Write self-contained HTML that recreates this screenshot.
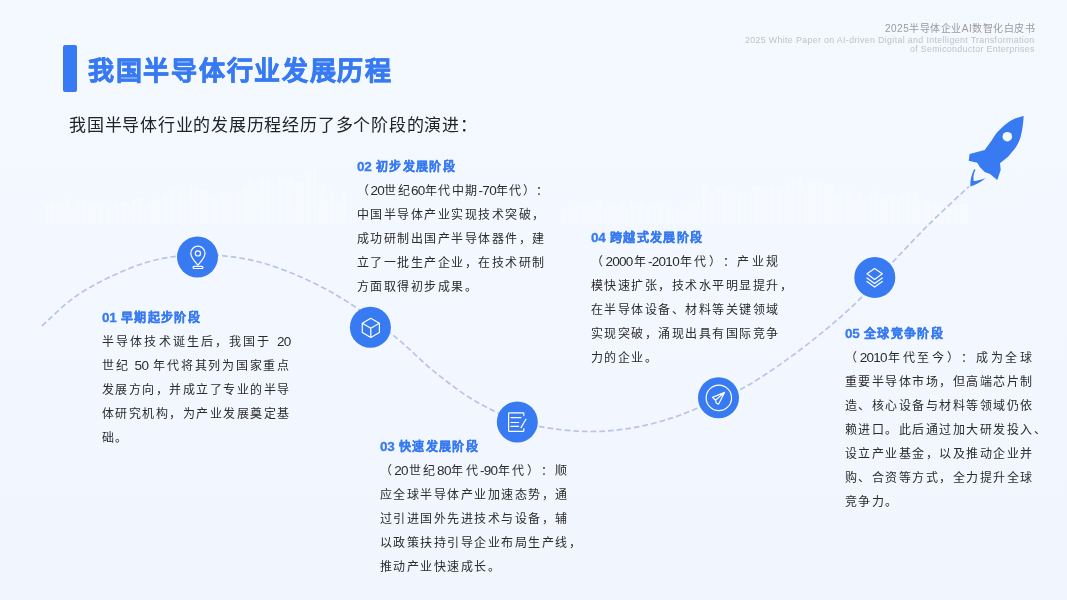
<!DOCTYPE html>
<html lang="zh-CN">
<head>
<meta charset="utf-8">
<style>
*{margin:0;padding:0;box-sizing:border-box}
html,body{width:1067px;height:600px;overflow:hidden}
body{background:linear-gradient(180deg,#f4f8ff 0%,#f3f7ff 50%,#f1f5fe 100%);font-family:"Liberation Sans",sans-serif;color:#333;position:relative}
.hcn,.hen1,.hen2{position:absolute;right:32px;white-space:nowrap;line-height:12px}
.hcn{top:23px;font-size:10px;letter-spacing:0.5px;color:#9a9a9a}
.hen1{top:33.5px;font-size:8.8px;letter-spacing:0.36px;color:#c2c2c2}
.hen2{top:42.5px;font-size:8.8px;letter-spacing:0.33px;color:#c2c2c2}
.bar{position:absolute;left:63px;top:45px;width:14px;height:47px;background:#377af2;border-radius:2px}
.title{position:absolute;left:88px;top:50.5px;font-size:26px;letter-spacing:1.72px;font-weight:bold;-webkit-text-stroke:0.7px #377af2;color:#377af2;white-space:nowrap;line-height:40px}
.sub{position:absolute;left:69px;top:111.5px;font-size:17px;letter-spacing:0.77px;color:#222;white-space:nowrap;line-height:28px}
.blk{position:absolute;width:188.6px;font-size:12px;letter-spacing:1.47px;line-height:24px;color:#2b2b2b;white-space:nowrap}
.blk h3{font-size:12px;letter-spacing:1.33px;word-spacing:-0.4px;font-weight:bold;-webkit-text-stroke:0.3px #377af2;color:#377af2;line-height:24px}
.blk .l{display:block;text-align:justify;text-align-last:justify}
.blk .e{display:block}
.blk i{font-style:normal;font-size:13.5px;letter-spacing:-0.7px;line-height:0}
.blk h3 i{letter-spacing:-0.2px}
.blk{text-spacing-trim:space-all}
svg.main{position:absolute;left:0;top:0}
.blk,.title,.sub,.hcn,.hen1,.hen2{will-change:transform}
</style>
</head>
<body>
<svg class="main" width="1067" height="600" viewBox="0 0 1067 600">
  <g fill="#ffffff" opacity="0.3"><rect x="45" y="204" width="4" height="20"/><rect x="50" y="202" width="4" height="22"/><rect x="55" y="203" width="7" height="21"/><rect x="63" y="199" width="7" height="25"/><rect x="71" y="207" width="3" height="17"/><rect x="75" y="201" width="6" height="23"/><rect x="82" y="200" width="4" height="24"/><rect x="87" y="203" width="9" height="21"/><rect x="97" y="203" width="7" height="21"/><rect x="105" y="207" width="9" height="17"/><rect x="115" y="204" width="4" height="20"/><rect x="120" y="202" width="7" height="22"/><rect x="128" y="205" width="3" height="19"/><rect x="132" y="200" width="3" height="24"/><rect x="136" y="198" width="7" height="26"/><rect x="144" y="206" width="3" height="18"/><rect x="148" y="203" width="5" height="21"/><rect x="152" y="199" width="9" height="25"/><rect x="162" y="195" width="6" height="29"/><rect x="169" y="190" width="6" height="34"/><rect x="176" y="191" width="7" height="33"/><rect x="184" y="198" width="4" height="26"/><rect x="189" y="184" width="3" height="40"/><rect x="193" y="187" width="6" height="37"/><rect x="200" y="190" width="9" height="34"/><rect x="210" y="198" width="9" height="26"/><rect x="220" y="192" width="6" height="32"/><rect x="227" y="193" width="6" height="31"/><rect x="234" y="193" width="7" height="31"/><rect x="242" y="187" width="7" height="37"/><rect x="248" y="179" width="5" height="45"/><rect x="254" y="182" width="3" height="42"/><rect x="258" y="179" width="7" height="45"/><rect x="266" y="179" width="4" height="45"/><rect x="271" y="184" width="5" height="40"/><rect x="277" y="177" width="7" height="47"/><rect x="285" y="178" width="9" height="46"/><rect x="295" y="182" width="9" height="42"/><rect x="305" y="171" width="7" height="53"/><rect x="313" y="167" width="3" height="57"/><rect x="317" y="185" width="9" height="39"/><rect x="322" y="195" width="3" height="29"/><rect x="326" y="196" width="3" height="28"/><rect x="330" y="190" width="4" height="34"/><rect x="335" y="202" width="6" height="22"/><rect x="342" y="191" width="3" height="33"/><rect x="560" y="208" width="7" height="16"/><rect x="568" y="207" width="6" height="17"/><rect x="575" y="206" width="5" height="18"/><rect x="581" y="205" width="5" height="19"/><rect x="587" y="203" width="3" height="21"/><rect x="591" y="201" width="3" height="23"/><rect x="595" y="200" width="7" height="24"/><rect x="603" y="210" width="4" height="14"/><rect x="608" y="206" width="5" height="18"/><rect x="614" y="207" width="4" height="17"/><rect x="619" y="203" width="5" height="21"/><rect x="625" y="209" width="4" height="15"/><rect x="630" y="204" width="6" height="20"/><rect x="637" y="204" width="7" height="20"/><rect x="645" y="207" width="7" height="17"/><rect x="653" y="206" width="3" height="18"/><rect x="657" y="203" width="7" height="21"/><rect x="665" y="207" width="9" height="17"/><rect x="675" y="209" width="4" height="15"/><rect x="680" y="210" width="6" height="14"/><rect x="687" y="203" width="7" height="21"/><rect x="695" y="200" width="5" height="24"/><rect x="701" y="210" width="6" height="14"/><rect x="702" y="186" width="5" height="38"/><rect x="708" y="192" width="7" height="32"/><rect x="716" y="187" width="4" height="37"/><rect x="721" y="189" width="9" height="35"/><rect x="731" y="193" width="5" height="31"/><rect x="737" y="192" width="5" height="32"/><rect x="743" y="193" width="5" height="31"/><rect x="749" y="192" width="3" height="32"/><rect x="753" y="186" width="9" height="38"/><rect x="763" y="189" width="5" height="35"/><rect x="769" y="189" width="6" height="35"/><rect x="776" y="189" width="7" height="35"/><rect x="784" y="188" width="5" height="36"/><rect x="785" y="184" width="5" height="40"/><rect x="791" y="179" width="5" height="45"/><rect x="797" y="177" width="6" height="47"/><rect x="804" y="186" width="3" height="38"/><rect x="808" y="183" width="9" height="41"/><rect x="818" y="181" width="5" height="43"/><rect x="824" y="184" width="9" height="40"/><rect x="830" y="193" width="4" height="31"/><rect x="835" y="194" width="9" height="30"/><rect x="845" y="191" width="9" height="33"/><rect x="855" y="193" width="7" height="31"/><rect x="863" y="197" width="5" height="27"/><rect x="869" y="194" width="4" height="30"/><rect x="874" y="191" width="4" height="33"/><rect x="879" y="197" width="9" height="27"/><rect x="889" y="195" width="7" height="29"/><rect x="897" y="198" width="4" height="26"/><rect x="902" y="195" width="3" height="29"/><rect x="906" y="193" width="4" height="31"/><rect x="911" y="192" width="7" height="32"/><rect x="916" y="203" width="5" height="21"/><rect x="922" y="201" width="9" height="23"/><rect x="932" y="203" width="7" height="21"/><rect x="940" y="204" width="4" height="20"/><rect x="945" y="208" width="7" height="16"/><rect x="953" y="205" width="5" height="19"/><rect x="959" y="204" width="9" height="20"/></g>
  <path d="M42 326 C47.5 321.1 63.5 305 75 296.8 C86.5 288.5 99 282.2 111 276.5 C123 270.8 136 265.6 147 262.2 C158 258.9 168.3 257.5 177 256.2 C185.7 255 191.7 254.9 199 254.8 C206.3 254.7 210.8 254.3 221 255.5 C231.2 256.7 246 258.4 260 262.2 C274 266.1 290 271.9 305 278.8 C320 285.6 334.9 293.8 350 303.5 C365.1 313.2 381.4 325.9 395.5 337.2 C409.6 348.6 421.2 361.1 434.5 371.8 C447.8 382.4 460.8 392.7 475 401 C489.2 409.3 505.5 416.7 520 421.5 C534.5 426.3 549.2 428.2 562.1 429.8 C575 431.4 585.4 431.7 597.1 431.4 C608.8 431.1 620.5 429.9 632.2 427.9 C643.9 425.9 656.6 422.7 667.2 419.5 C677.8 416.3 683.7 413.8 695.9 408.8 C708.1 403.8 725.5 397.6 740.2 389.7 C754.9 381.8 769.7 371.8 784 361.7 C798.3 351.6 813.2 340 826 329.4 C838.8 318.8 850 308.9 861 297.9 C872 286.9 880.2 275.7 891.7 263.3 C903.2 250.9 917.1 236.1 930 223.3 C942.9 210.5 962.5 192.6 969 186.5" fill="none" stroke="#b8c5e8" stroke-width="1.7" stroke-dasharray="5.7 3"/>
  <g fill="#377af2">
    <circle cx="197.5" cy="257" r="20.5"/>
    <circle cx="370.4" cy="327.3" r="20.5"/>
    <circle cx="517.3" cy="422" r="20.5"/>
    <circle cx="718.5" cy="397.8" r="20.5"/>
    <circle cx="874.8" cy="277.4" r="20.5"/>
  </g>
  <g fill="none" stroke="#fff" stroke-width="1.2" stroke-linecap="round" stroke-linejoin="round">
    <!-- pin -->
    <path d="M197.9 265.2 C 194 260.5, 190.8 257.5, 190.8 253.3 A 7.1 7.1 0 0 1 205 253.3 C 205 257.5, 201.8 260.5, 197.9 265.2 Z"/>
    <circle cx="197.9" cy="253.4" r="2.6"/>
    <rect x="193" y="266.3" width="10" height="2.2" rx="1.1"/>
    <!-- cube -->
    <path d="M370.8 318.3 L379.4 323.2 L379.4 332.4 L370.8 337.4 L362.3 332.4 L362.3 323.2 Z"/>
    <path d="M362.8 323.6 L370.8 328.2 L378.9 323.6 M370.8 328.2 V337"/>
    <!-- doc -->
    <path d="M523.8 415.6 V413.4 Q523.8 412.9 523.3 412.9 H509.1 Q508.6 412.9 508.6 413.4 V430.8 Q508.6 431.3 509.1 431.3 H523.3 Q523.8 431.3 523.8 430.8 V428.6"/>
    <path d="M510.9 417.6 H521 M510.9 422.5 H518.6 M510.9 426.4 H518.6 M525.9 419.2 L521 427.6"/>
    <!-- plane -->
    <circle cx="718.85" cy="397.9" r="12.7"/>
    <path d="M724.6 392.4 L712.5 397.4 L715.5 400.2 L716.3 403 L718.5 404.2 Z M724.6 392.4 L715.5 400.2"/>
    <!-- layers -->
    <path d="M874.6 268.5 L882.3 273.8 L874.6 279.4 L867 273.8 Z"/>
    <path d="M866.9 278 L874.6 283.6 L882.3 278 M866.9 281.5 L874.6 287.1 L882.3 281.5"/>
  </g>
  <!-- rocket -->
  <g fill="#377af2">
    <path d="M1023.7 116 C1023.4 122, 1022.4 130, 1020.7 136.7 C1018.8 143, 1016 147.3, 1012 152 L1008 156.7 L1000 163.3 L1000.7 170 L997.3 180 L993.3 176.7 L990 174 L984.7 172 L980 167.3 L977.3 162.7 L968.7 160.7 L969.6 154 L984.7 150 L992 140 C995 135, 997 132, 1000 129.5 C1004 125.5, 1008 122, 1012 120 C1016 118, 1020 116.8, 1023.7 116 Z"/>
    <path d="M974.2 169.3 C971.6 174 970.1 180 970.3 186.6 C976 184.6 981.5 182 985.6 178.1 C981 180 976.5 181.2 973.6 181 C973 177.5 973.7 173 975.6 169.8 Z"/>
  </g>
  <circle cx="1007.3" cy="136.7" r="4.8" fill="#f4f8ff"/>
</svg>

<div class="hcn">2025半导体企业AI数智化白皮书</div>
<div class="hen1">2025 White Paper on AI-driven Digital and Intelligent Transformation</div>
<div class="hen2">of Semiconductor Enterprises</div>

<div class="bar"></div>
<div class="title">我国半导体行业发展历程</div>
<div class="sub">我国半导体行业的发展历程经历了多个阶段的演进：</div>

<div class="blk" style="left:102px;top:305.6px">
  <h3><i>01</i> 早期起步阶段</h3>
  <span class="l">半导体技术诞生后，我国于 <i>20</i></span>
  <span class="l">世纪 <i>50</i> 年代将其列为国家重点</span>
  <span class="l">发展方向，并成立了专业的半导</span>
  <span class="l">体研究机构，为产业发展奠定基</span>
  <span class="e">础。</span>
</div>

<div class="blk" style="left:357px;top:154.8px">
  <h3><i>02</i> 初步发展阶段</h3>
  <span class="l">（<i>20</i>世纪<i>60</i>年代中期<i>-70</i>年代）：</span>
  <span class="l">中国半导体产业实现技术突破，</span>
  <span class="l">成功研制出国产半导体器件，建</span>
  <span class="l">立了一批生产企业，在技术研制</span>
  <span class="e">方面取得初步成果。</span>
</div>

<div class="blk" style="left:380px;top:435px">
  <h3><i>03</i> 快速发展阶段</h3>
  <span class="l">（<i>20</i>世纪<i>80</i>年代<i>-90</i>年代）：顺</span>
  <span class="l">应全球半导体产业加速态势，通</span>
  <span class="l">过引进国外先进技术与设备，辅</span>
  <span class="l">以政策扶持引导企业布局生产线，</span>
  <span class="e">推动产业快速成长。</span>
</div>

<div class="blk" style="left:591px;top:226.1px">
  <h3><i>04</i> 跨越式发展阶段</h3>
  <span class="l">（<i>2000</i>年<i>-2010</i>年代）：产业规</span>
  <span class="l">模快速扩张，技术水平明显提升，</span>
  <span class="l">在半导体设备、材料等关键领域</span>
  <span class="l">实现突破，涌现出具有国际竞争</span>
  <span class="e">力的企业。</span>
</div>

<div class="blk" style="left:845px;top:322.3px">
  <h3><i>05</i> 全球竞争阶段</h3>
  <span class="l">（<i>2010</i>年代至今）：成为全球</span>
  <span class="l">重要半导体市场，但高端芯片制</span>
  <span class="l">造、核心设备与材料等领域仍依</span>
  <span class="l">赖进口。此后通过加大研发投入、</span>
  <span class="l">设立产业基金，以及推动企业并</span>
  <span class="l">购、合资等方式，全力提升全球</span>
  <span class="e">竞争力。</span>
</div>
</body>
</html>
